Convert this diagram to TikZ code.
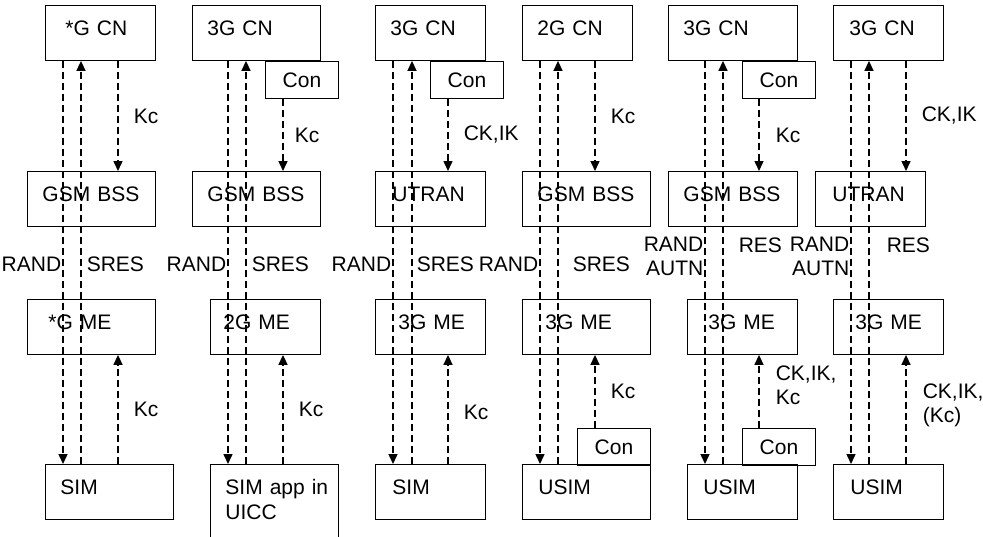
\documentclass[tikz,border=0pt]{standalone}
\usepackage{fontspec}
\setmainfont{Liberation Sans}
\usepackage{tikz}
\usetikzlibrary{arrows.meta}

\begin{document}
\begin{tikzpicture}[x=1pt, y=-1pt, -> , >={Triangle[length=10pt, width=9pt]},
        every edge/.append style={line width=1.5pt, dash pattern=on 7pt off 4pt},
        box/.code args={#1/#2}{\pgfmathsetlengthmacro\boxtw{#1-2*#2}%
            \pgfkeysalso{draw, line width=0.9pt, anchor=north west, align=left,
                inner xsep=#2, inner ysep=0pt, text width=\boxtw,
                text height=30pt, text depth=25pt, font=\fontsize{21}{25}\selectfont}},
        con/.style={draw, line width=0.9pt, anchor=north west, minimum width=73pt,
            inner sep=0pt, text height=26pt, text depth=11pt, font=\fontsize{21}{25}\selectfont},
        llbl/.style={left, inner sep=0pt, xshift=-1pt, align=right, font=\fontsize{21}{24}\selectfont},
        rlbl/.style={right, inner sep=0pt, xshift=#1, align=left, font=\fontsize{21}{24}\selectfont},
        rlbl/.default=15pt]
            \useasboundingbox (0,0) rectangle (983,536);

            % column 1
            \node [box=110/20] (cn1) at (45,5) {*G~CN};
            \node [box=128/15] (bss1) at (27,171) {GSM~BSS};
            \node [box=128/21] (me1) at (27,299) {*G~ME};
            \node [box=128/15] (sim1) at (45,464) {SIM};
            % column 2
            \node [box=128/15] (cn2) at (192,5) {3G~CN};
            \node [con] (con2) at (265,61) {Con};
            \node [box=128/15] (bss2) at (192,171) {GSM~BSS};
            \node [box=110/13] (me2) at (210,299) {2G~ME};
            \node [box=128/15, text depth=45pt] (uicc2) at (210,464) {SIM~app~in\\UICC};
            % column 3
            \node [box=110/15] (cn3) at (375,5) {3G~CN};
            \node [con] (con3) at (430,61) {Con};
            \node [box=110/17] (utran3) at (375,171) {UTRAN};
            \node [box=110/23] (me3) at (375,299) {3G~ME};
            \node [box=110/17] (sim3) at (375,464) {SIM};
            % column 4
            \node [box=110/15] (cn4) at (522,5) {2G~CN};
            \node [box=128/15] (bss4) at (522,171) {GSM~BSS};
            \node [box=128/23] (me4) at (522,299) {3G~ME};
            \node [con] (con4) at (577,428) {Con};
            \node [box=128/16] (usim4) at (522,464) {USIM};
            % column 5
            \node [box=129/15] (cn5) at (668,5) {3G~CN};
            \node [con] (con5a) at (742,61) {Con};
            \node [box=129/15] (bss5) at (668,171) {GSM~BSS};
            \node [box=110/21] (me5) at (687,299) {3G~ME};
            \node [con] (con5b) at (742,428) {Con};
            \node [box=110/16] (usim5) at (687,464) {USIM};
            % column 6
            \node [box=110/16] (cn6) at (833,5) {3G~CN};
            \node [box=110/17] (utran6) at (815,171) {UTRAN};
            \node [box=110/22] (me6) at (833,299) {3G~ME};
            \node [box=110/17] (usim6) at (833,464) {USIM};

            % where the dashed lines run
            \coordinate (ra1) at (63,0);  \coordinate (sr1) at (81,0);  \coordinate (kc1) at (118,0);
            \coordinate (ra2) at (228,0); \coordinate (sr2) at (246,0); \coordinate (kc2) at (283,0);
            \coordinate (ra3) at (393,0); \coordinate (sr3) at (412,0); \coordinate (kc3) at (448,0);
            \coordinate (ra4) at (540,0); \coordinate (sr4) at (558,0); \coordinate (kc4) at (595,0);
            \coordinate (ra5) at (705,0); \coordinate (sr5) at (723,0); \coordinate (kc5) at (759,0);
            \coordinate (ra6) at (851,0); \coordinate (sr6) at (869,0); \coordinate (kc6) at (906,0);

            \path (cn1.south -| ra1) edge node[llbl, yshift=-2pt] {RAND} (sim1.north -| ra1);
            \path (sim1.north -| sr1) edge node[rlbl=5pt, yshift=-2pt] {SRES} (cn1.south -| sr1);
            \path (cn1.south -| kc1) edge node[rlbl] {Kc} (bss1.north -| kc1);
            \path (sim1.north -| kc1) edge node[rlbl] {Kc} (me1.south -| kc1);

            \path (cn2.south -| ra2) edge node[llbl, yshift=-2pt] {RAND} (uicc2.north -| ra2);
            \path (uicc2.north -| sr2) edge node[rlbl=5pt, yshift=-2pt] {SRES} (cn2.south -| sr2);
            \path (con2.south -| kc2) edge node[rlbl=11pt] {Kc} (bss2.north -| kc2);
            \path (uicc2.north -| kc2) edge node[rlbl] {Kc} (me2.south -| kc2);

            \path (cn3.south -| ra3) edge node[llbl, yshift=-2pt] {RAND} (sim3.north -| ra3);
            \path (sim3.north -| sr3) edge node[rlbl=4pt, yshift=-2pt] {SRES} (cn3.south -| sr3);
            \path (con3.south -| kc3) edge node[rlbl] {CK,IK} (utran3.north -| kc3);
            \path (sim3.north -| kc3) edge node[rlbl, yshift=-3pt] {Kc} (me3.south -| kc3);

            \path (cn4.south -| ra4) edge node[llbl, yshift=-2pt] {RAND} (usim4.north -| ra4);
            \path (usim4.north -| sr4) edge node[rlbl=14pt, yshift=-2pt] {SRES} (cn4.south -| sr4);
            \path (cn4.south -| kc4) edge node[rlbl] {Kc} (bss4.north -| kc4);
            \path (con4.north -| kc4) edge node[rlbl] {Kc} (me4.south -| kc4);

            \path (cn5.south -| ra5) edge node[llbl, yshift=6pt] {RAND\\AUTN} (usim5.north -| ra5);
            \path (usim5.north -| sr5) edge node[rlbl, yshift=17pt] {RES} (cn5.south -| sr5);
            \path (con5a.south -| kc5) edge node[rlbl=16pt] {Kc} (bss5.north -| kc5);
            \path (con5b.north -| kc5) edge node[rlbl=16pt, yshift=6pt] {CK,IK,\\Kc} (me5.south -| kc5);

            \path (cn6.south -| ra6) edge node[llbl, yshift=6pt] {RAND\\AUTN} (usim6.north -| ra6);
            \path (usim6.north -| sr6) edge node[rlbl=17pt, yshift=17pt] {RES} (cn6.south -| sr6);
            \path (cn6.south -| kc6) edge node[rlbl] {CK,IK} (utran6.north -| kc6);
            \path (usim6.north -| kc6) edge node[rlbl=16pt, yshift=4pt] {CK,IK,\\(Kc)} (me6.south -| kc6);
        \end{tikzpicture}
\end{document}
